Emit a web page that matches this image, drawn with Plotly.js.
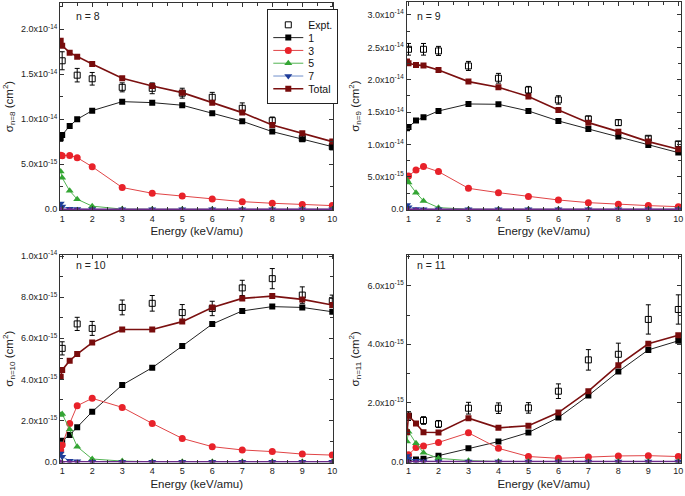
<!DOCTYPE html>
<html><head><meta charset="utf-8">
<script src="https://cdn.plot.ly/plotly-3.0.1.min.js"></script>
<style>html,body{margin:0;padding:0;background:#fff}#chart{width:685px;height:496px}</style>
</head><body><div id="chart"></div>
<script>
// Energies (keV/amu)
const energyModel = [0.95, 1, 1.25, 1.5, 2, 3, 4, 5, 6, 7, 8, 9, 10];
const energyExpt  = [1, 1.5, 2, 3, 4, 5, 6, 7, 8, 9, 10];
const xTickVals = [1, 2, 3, 4, 5, 6, 7, 8, 9, 10];
const xTickText = ['1', '2', '3', '4', '5', '6', '7', '8', '9', '10'];

// All cross sections in units of 1e-15 cm^2
// n = 8
const n8_l1    = [7.89, 8.26, 9.26, 10.0, 10.96, 11.96, 11.85, 11.56, 10.67, 9.78, 8.63, 7.78, 6.96];
const n8_l3    = [6.0, 5.96, 5.99, 5.74, 4.73, 2.42, 1.78, 1.48, 1.15, 0.85, 0.67, 0.52, 0.41];
const n8_l5    = [4.2, 3.5, 2.05, 1.12, 0.35, 0.02, 0, 0, 0, 0, 0, 0, 0];
const n8_l7    = [0.65, 0.3, 0.05, 0.02, 0, 0, 0, 0, 0, 0, 0, 0, 0];
const n8_l9    = [0, 0, 0, 0, 0, 0, 0, 0, 0, 0, 0, 0, 0];
const n8_total = [18.73, 18.18, 17.4, 16.96, 16.14, 14.55, 13.7, 12.96, 11.85, 10.74, 9.37, 8.44, 7.52];
const n8_expt  = [16.5, 14.9, 14.5, 13.55, 13.44, 12.9, 12.44, 11.22, 9.85, 7.89, 6.96];
const n8_err   = [1.0, 0.75, 0.7, 0.5, 0.6, 0.55, 0.55, 0.6, 0.4, 0.35, 0.35];
// n = 9
const n9_l1    = [12.5, 12.7, 13.69, 14.2, 15.18, 16.26, 16.21, 15.18, 13.64, 12.4, 11.22, 9.93, 8.75];
const n9_l3    = [5.04, 5.15, 6.07, 6.59, 5.82, 3.24, 2.57, 1.96, 1.44, 1.03, 0.77, 0.57, 0.41];
const n9_l5    = [4.53, 4.12, 2.57, 1.29, 0.26, 0.02, 0, 0, 0, 0, 0, 0, 0];
const n9_l7    = [0.67, 0.31, 0.05, 0.02, 0, 0, 0, 0, 0, 0, 0, 0, 0];
const n9_l9    = [0, 0, 0, 0, 0, 0, 0, 0, 0, 0, 0, 0, 0];
const n9_total = [22.8, 22.54, 22.29, 22.18, 21.51, 19.71, 18.84, 17.4, 15.34, 13.38, 11.99, 10.45, 9.26];
const n9_expt  = [24.7, 24.7, 24.45, 22.13, 20.23, 18.42, 16.88, 13.95, 13.38, 10.96, 10.09];
const n9_err   = [0.9, 0.9, 0.7, 0.7, 0.75, 0.55, 0.65, 0.45, 0.45, 0.35, 0.4];
// n = 10
const n10_l1    = [0.95, 1.02, 1.30, 1.67, 2.43, 3.73, 4.57, 5.62, 6.69, 7.33, 7.54, 7.50, 7.29];
const n10_l3    = [0.57, 0.81, 1.86, 2.72, 3.08, 2.64, 1.86, 1.13, 0.73, 0.57, 0.49, 0.37, 0.32];
const n10_l5    = [2.27, 2.32, 1.57, 0.73, 0.13, 0.03, 0, 0, 0, 0, 0, 0, 0];
const n10_l7    = [0.4, 0.24, 0.05, 0.02, 0, 0, 0, 0, 0, 0, 0, 0, 0];
const n10_l9    = [0, 0, 0, 0, 0, 0, 0, 0, 0, 0, 0, 0, 0];
const n10_total = [4.13, 4.46, 4.91, 5.23, 5.79, 6.43, 6.43, 6.81, 7.50, 7.94, 8.05, 7.89, 7.62];
const n10_expt  = [5.51, 6.7, 6.48, 7.5, 7.7, 7.25, 7.45, 8.45, 8.9, 8.1, 7.8];
const n10_err   = [0.32, 0.32, 0.34, 0.36, 0.38, 0.39, 0.35, 0.37, 0.49, 0.4, 0.3];
// n = 11
const n11_l1    = [0.02, 0.05, 0.07, 0.09, 0.2, 0.45, 0.68, 0.99, 1.5, 2.25, 3.07, 3.81, 4.12];
const n11_l3    = [0.19, 0.23, 0.48, 0.53, 0.65, 0.98, 0.45, 0.17, 0.11, 0.15, 0.19, 0.2, 0.17];
const n11_l5    = [0.68, 1.02, 0.62, 0.3, 0.11, 0.03, 0, 0, 0, 0, 0, 0, 0];
const n11_l7    = [0.19, 0.1, 0.03, 0.01, 0, 0, 0, 0, 0, 0, 0, 0, 0];
const n11_l9    = [0, 0, 0, 0, 0, 0, 0, 0, 0, 0, 0, 0, 0];
const n11_total = [1.0, 1.56, 1.30, 1.0, 0.99, 1.48, 1.15, 1.22, 1.67, 2.4, 3.29, 4.02, 4.31];
const n11_expt  = [1.55, 1.4, 1.28, 1.82, 1.82, 1.83, 2.4, 3.47, 3.66, 4.85, 5.19];
const n11_err   = [0.15, 0.13, 0.12, 0.2, 0.18, 0.18, 0.25, 0.35, 0.38, 0.5, 0.5];

// y tick labels
const yTicks_n8  = [0, 5, 10, 15, 20];
const yText_n8   = ['0.0', '5.0x10<sup>-15</sup>', '1.0x10<sup>-14</sup>', '1.5x10<sup>-14</sup>', '2.0x10<sup>-14</sup>'];
const yTicks_n9  = [0, 5, 10, 15, 20, 25, 30];
const yText_n9   = ['0.0', '5.0x10<sup>-15</sup>', '1.0x10<sup>-14</sup>', '1.5x10<sup>-14</sup>', '2.0x10<sup>-14</sup>', '2.5x10<sup>-14</sup>', '3.0x10<sup>-14</sup>'];
const yTicks_n10 = [0, 2, 4, 6, 8, 10];
const yText_n10  = ['0.0', '2.0x10<sup>-15</sup>', '4.0x10<sup>-15</sup>', '6.0x10<sup>-15</sup>', '8.0x10<sup>-15</sup>', '1.0x10<sup>-14</sup>'];
const yTicks_n11 = [0, 2, 4, 6];
const yText_n11  = ['0.0', '2.0x10<sup>-15</sup>', '4.0x10<sup>-15</sup>', '6.0x10<sup>-15</sup>'];

const legendNames = ['Expt.', '1', '3', '5', '7', 'Total'];
const panelLabels = ['n = 8', 'n = 9', 'n = 10', 'n = 11'];
const yTitles = ['σ<sub>n=8</sub> (cm<sup>2</sup>)', 'σ<sub>n=9</sub> (cm<sup>2</sup>)', 'σ<sub>n=10</sub> (cm<sup>2</sup>)', 'σ<sub>n=11</sub> (cm<sup>2</sup>)'];

const panels = [
  {l1:n8_l1, l3:n8_l3, l5:n8_l5, l7:n8_l7, l9:n8_l9, tot:n8_total, ex:n8_expt, er:n8_err},
  {l1:n9_l1, l3:n9_l3, l5:n9_l5, l7:n9_l7, l9:n9_l9, tot:n9_total, ex:n9_expt, er:n9_err},
  {l1:n10_l1, l3:n10_l3, l5:n10_l5, l7:n10_l7, l9:n10_l9, tot:n10_total, ex:n10_expt, er:n10_err},
  {l1:n11_l1, l3:n11_l3, l5:n11_l5, l7:n11_l7, l9:n11_l9, tot:n11_total, ex:n11_expt, er:n11_err}
];

const C = {
  l1: {line:'#222222', mk:'#000000', sym:'square', size:6},
  l3: {line:'#e04446', mk:'#e8222a', sym:'circle', size:7},
  l5: {line:'#52b352', mk:'#34a534', sym:'triangle-up', size:7},
  l7: {line:'#7090cc', mk:'#1f3d99', sym:'triangle-down', size:7},
  l9: {line:'#6e2a8c', mk:'#6e2a8c', sym:'triangle-up', size:5},
  tot:{line:'#7b1010', mk:'#780c0c', sym:'square', size:6}
};

const traces = [];
panels.forEach((p, i) => {
  const xa = 'x' + (i === 0 ? '' : i + 1);
  const ya = 'y' + (i === 0 ? '' : i + 1);
  const show = i === 0;
  traces.push({
    x: energyExpt, y: p.ex, xaxis: xa, yaxis: ya, type: 'scatter', mode: 'markers',
    name: legendNames[0], showlegend: show, legendrank: 1,
    marker: {symbol: 'square-open', size: 6, color: '#000', line: {width: 1, color: '#000'}},
    error_y: {type: 'data', array: p.er, visible: true, color: '#000', thickness: 1, width: 2.5}
  });
  const series = [['l1', 1, 2], ['l3', 2, 3], ['l5', 3, 4], ['l7', 4, 5], ['l9', -1, 0], ['tot', 5, 6]];
  series.forEach(([key, nameIdx, rank]) => {
    const c = C[key];
    traces.push({
      x: energyModel, y: p[key], xaxis: xa, yaxis: ya, type: 'scatter', mode: 'lines+markers',
      name: nameIdx >= 0 ? legendNames[nameIdx] : '9',
      showlegend: show && nameIdx >= 0, legendrank: rank,
      line: {color: c.line, width: key === 'tot' ? 1.6 : (key === 'l9' ? 1.5 : 1)},
      marker: {symbol: c.sym, size: c.size, color: c.mk, line: {width: 0}}
    });
  });
});

const fontFam = 'Liberation Sans, Arial, sans-serif';
function xAxis(domain, range, anchor) {
  return {
    domain: domain, range: range, anchor: anchor,
    tickmode: 'array', tickvals: xTickVals, ticktext: xTickText,
    ticks: 'inside', ticklen: 4, tickcolor: '#333', tickwidth: 1,
    minor: {ticks: 'inside', ticklen: 3, tickcolor: '#333', tickmode: 'linear', tick0: 0.5, dtick: 0.5},
    showline: true, linecolor: '#333', linewidth: 1, mirror: 'allticks',
    showgrid: false, zeroline: false, automargin: false,
    tickfont: {size: 9, color: '#222'},
    title: {text: 'Energy (keV/amu)', font: {size: 11.5, color: '#222'}, standoff: 4}
  };
}
function yAxis(domain, range, anchor, tv, tt, minorStep, title) {
  return {
    domain: domain, range: range, anchor: anchor,
    tickmode: 'array', tickvals: tv, ticktext: tt,
    ticks: 'inside', ticklen: 4, tickcolor: '#333', tickwidth: 1,
    minor: {ticks: 'inside', ticklen: 3, tickcolor: '#333', tickmode: 'linear', tick0: 0, dtick: minorStep},
    showline: true, linecolor: '#333', linewidth: 1, mirror: 'allticks',
    showgrid: false, zeroline: false, automargin: false,
    tickfont: {size: 9, color: '#222'},
    title: {text: title, font: {size: 11.5, color: '#222'}, standoff: 5}
  };
}

const xd1 = [0.0032, 0.4415], xd2 = [0.5585, 0.9984];
const ydT1 = [0.5536, 0.9979], ydT2 = [0.5536, 1.0], ydB = [0.0118, 0.4571];

const annotations = panelLabels.map((t, i) => ({
  text: t, showarrow: false,
  xref: (i === 0 ? 'x' : 'x' + (i + 1)) + ' domain',
  yref: (i === 0 ? 'y' : 'y' + (i + 1)) + ' domain',
  x: i % 2 === 0 ? 0.051 : 0.031, y: i < 2 ? 0.935 : 0.952,
  xanchor: 'left', yanchor: 'middle',
  font: {size: 10.5, color: '#222', family: fontFam}
}));

const layout = {
  width: 685, height: 496,
  margin: {l: 58, r: 3, t: 2, b: 28, pad: 0},
  paper_bgcolor: '#fff', plot_bgcolor: '#fff',
  font: {family: fontFam, color: '#222'},
  showlegend: true,
  legend: {
    x: 0.3354, y: 0.9843, xanchor: 'left', yanchor: 'top',
    bgcolor: '#fff', bordercolor: '#222', borderwidth: 1,
    font: {size: 10.5, color: '#111'}, itemwidth: 30, tracegroupgap: 0
  },
  xaxis:  xAxis(xd1, [0.927, 10.04], 'y'),
  yaxis:  yAxis(ydT1, [-0.08, 22.92], 'x', yTicks_n8, yText_n8, 2.5, yTitles[0]),
  xaxis2: xAxis(xd2, [0.933, 10.09], 'y2'),
  yaxis2: yAxis(ydT2, [-0.11, 32.0], 'x2', yTicks_n9, yText_n9, 2.5, yTitles[1]),
  xaxis3: xAxis(xd1, [0.927, 10.04], 'y3'),
  yaxis3: yAxis(ydB, [-0.04, 10.05], 'x3', yTicks_n10, yText_n10, 1, yTitles[2]),
  xaxis4: xAxis(xd2, [0.933, 10.09], 'y4'),
  yaxis4: yAxis(ydB, [-0.034, 7.05], 'x4', yTicks_n11, yText_n11, 1, yTitles[3]),
  annotations: annotations
};

// Compact the legend rows to match the tighter spacing of the original figure
function compactLegend(gd, step) {
  const items = Array.from(gd.querySelectorAll('g.legend g.traces'));
  if (items.length < 2) return;
  const parse = el => {
    const m = /translate\(\s*([-\d.eE]+)[\s,]+([-\d.eE]+)/.exec(el.getAttribute('transform') || '');
    return m ? [parseFloat(m[1]), parseFloat(m[2])] : [0, 0];
  };
  const pos = items.map(el => ({el: el, p: parse(el)})).sort((a, b) => a.p[1] - b.p[1]);
  const y0 = pos[0].p[1];
  const oldSpan = pos[pos.length - 1].p[1] - y0;
  pos.forEach((o, i) => o.el.setAttribute('transform', 'translate(' + o.p[0] + ',' + (y0 + i * step) + ')'));
  const shrink = oldSpan - step * (pos.length - 1);
  const bg = gd.querySelector('g.legend rect.bg');
  if (bg) bg.setAttribute('height', parseFloat(bg.getAttribute('height')) - shrink);
}

Plotly.newPlot('chart', traces, layout, {staticPlot: true, displayModeBar: false})
  .then(gd => compactLegend(gd, 12.8));
</script>
</body></html>
